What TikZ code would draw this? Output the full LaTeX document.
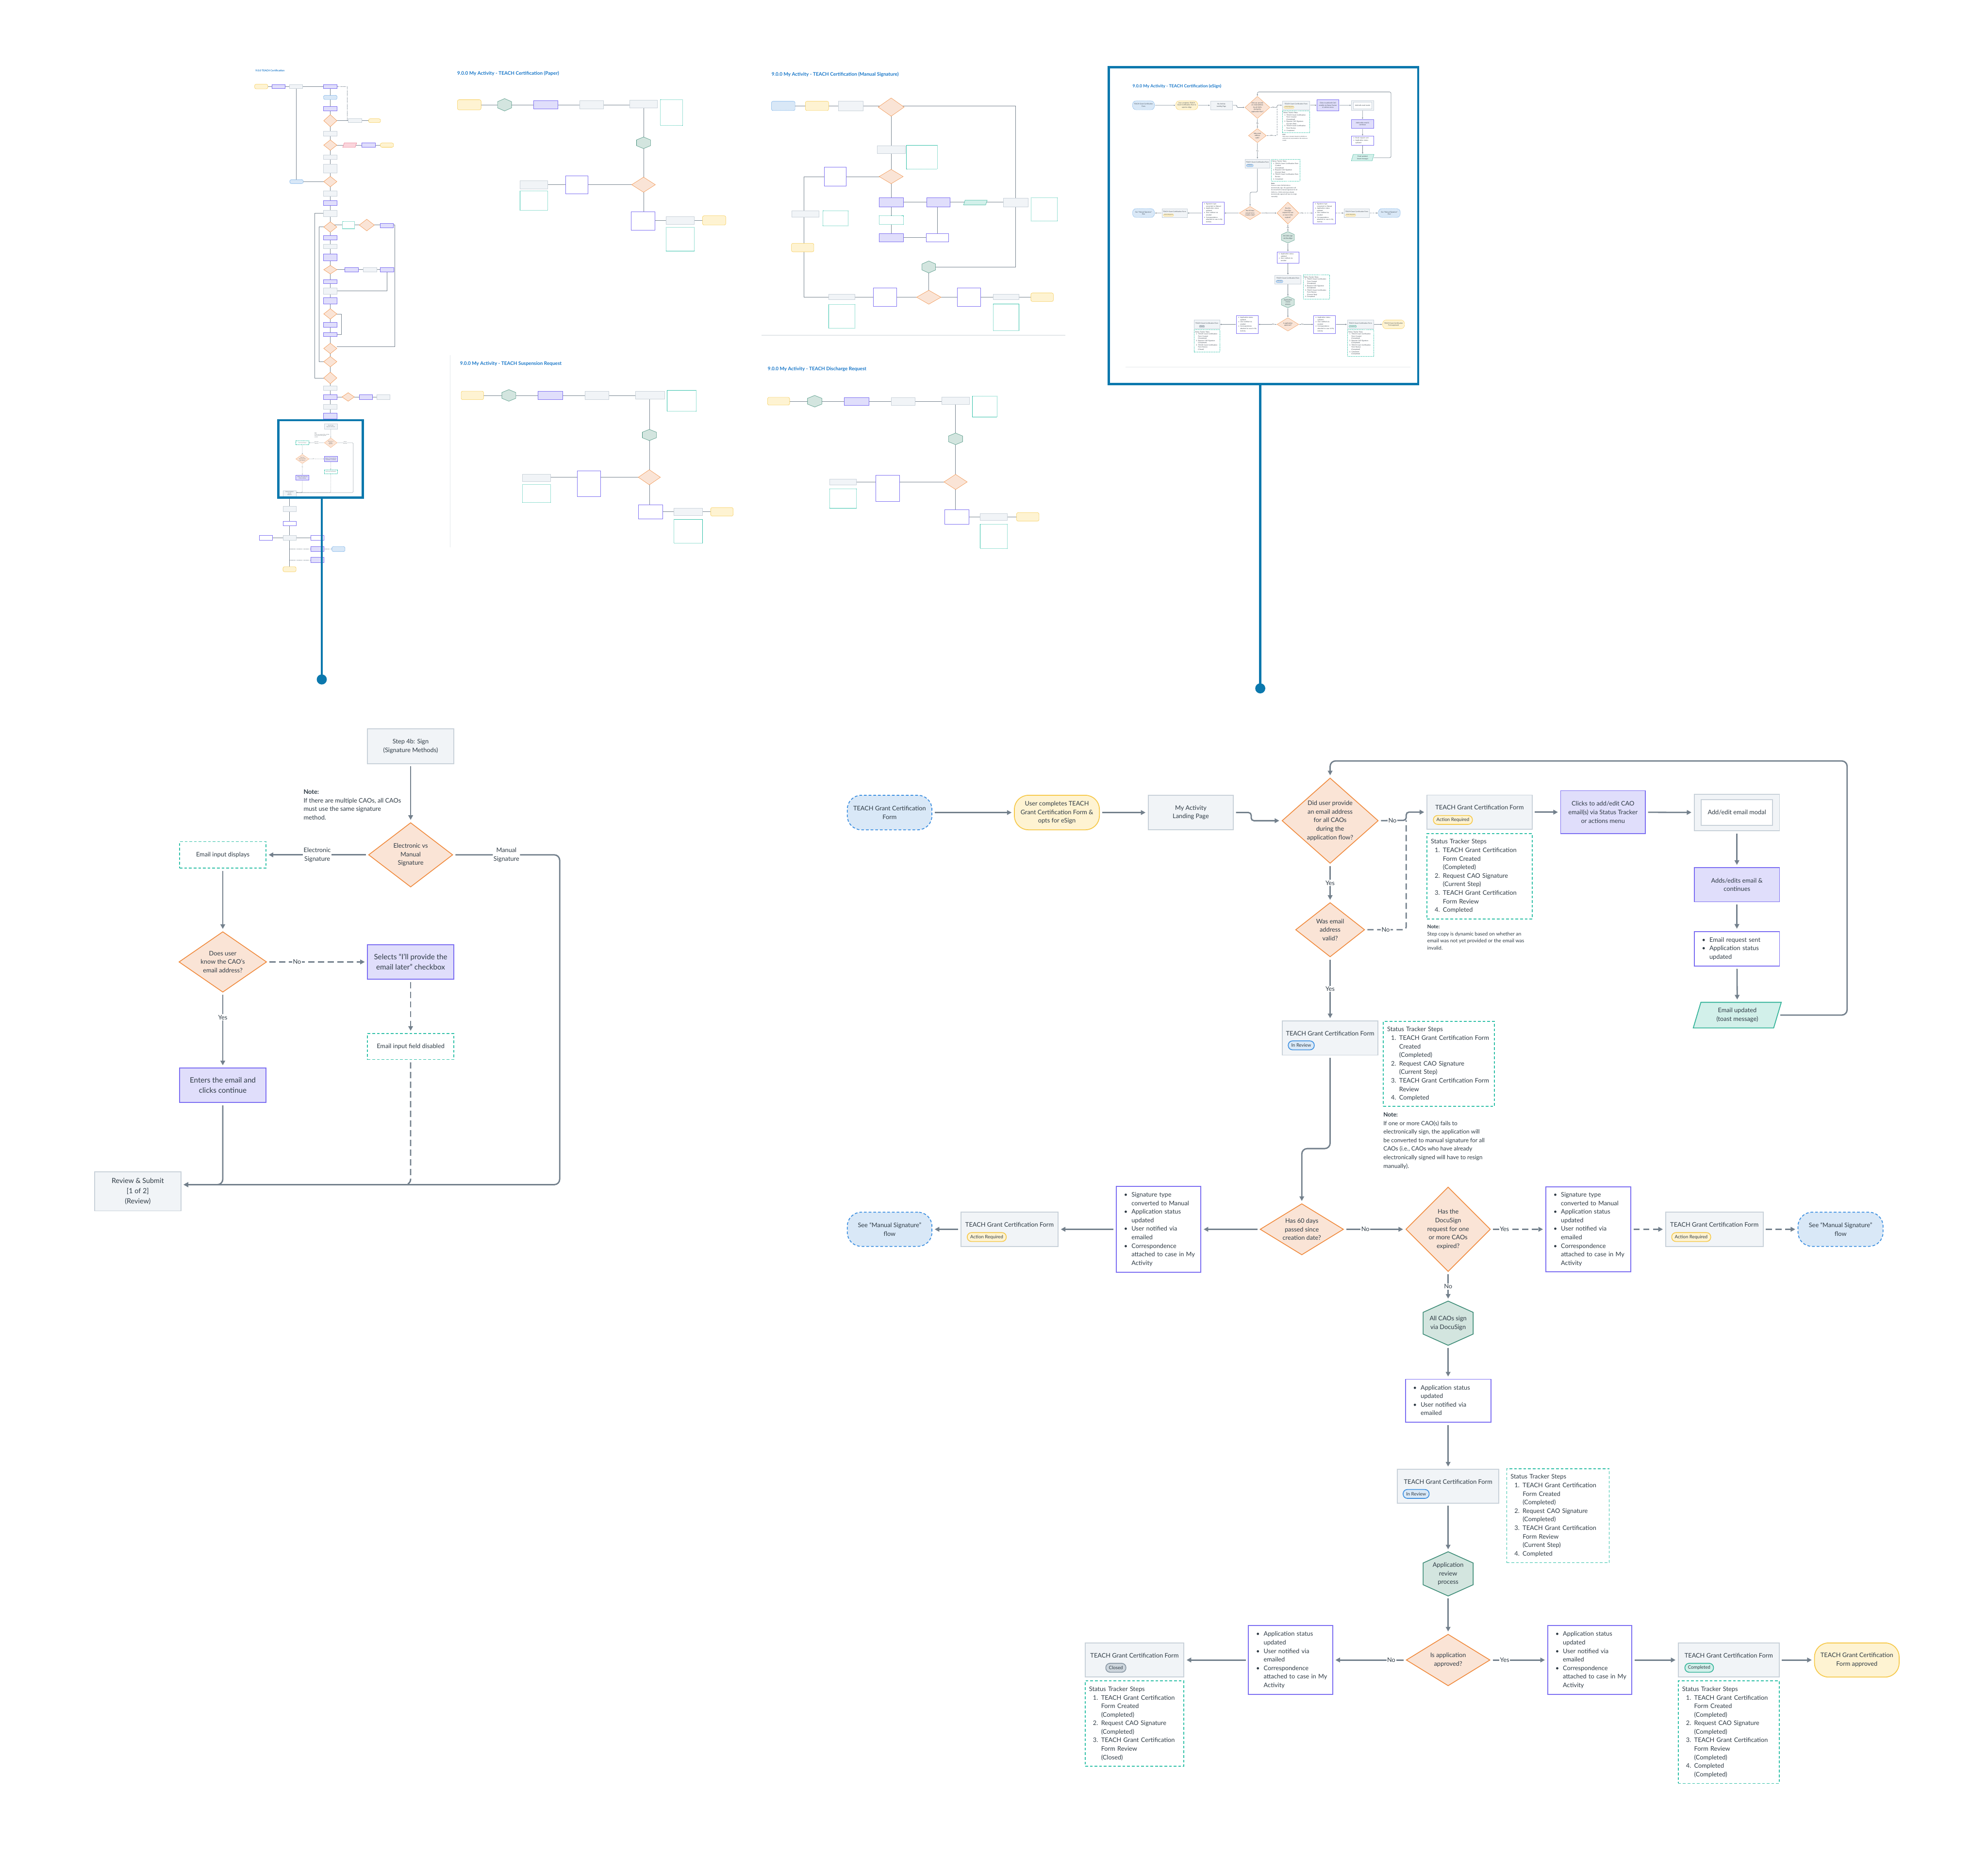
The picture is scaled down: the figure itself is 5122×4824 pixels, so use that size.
\documentclass[tikz,border=0pt]{standalone}
\usepackage{fontspec}
\setmainfont{Lato}
\usetikzlibrary{arrows.meta,calc,positioning,shapes.geometric}

\definecolor{lnGray}{HTML}{73808C}
\definecolor{txtc}{HTML}{2F3B45}
\definecolor{gFill}{HTML}{F1F4F7}
\definecolor{gEdge}{HTML}{C8D1D9}
\definecolor{pFill}{HTML}{E0DEFB}
\definecolor{pEdge}{HTML}{7B6DF2}
\definecolor{dFill}{HTML}{FAE4D6}
\definecolor{dEdge}{HTML}{F0893B}
\definecolor{tEdge}{HTML}{2DBFA6}
\definecolor{bFill}{HTML}{D9E8F7}
\definecolor{bEdge}{HTML}{3B8EE0}
\definecolor{yFill}{HTML}{FEF3D2}
\definecolor{yEdge}{HTML}{F6C94B}
\definecolor{hFill}{HTML}{D3E5DF}
\definecolor{hEdge}{HTML}{3C8B76}
\definecolor{toastFill}{HTML}{D2F0EA}
\definecolor{toastEdge}{HTML}{33B399}
\definecolor{clFill}{HTML}{CDD5DC}
\definecolor{clEdge}{HTML}{8796A3}
\definecolor{pinkFill}{HTML}{FBD5DC}
\definecolor{pinkEdge}{HTML}{E8738A}
\definecolor{frameBlue}{HTML}{0B78AD}
\definecolor{titleBlue}{HTML}{1A78C9}
\definecolor{sepGray}{HTML}{E3E7EA}

\newcommand\ftMain{\fontsize{16}{22}\selectfont}
\newcommand\ftBig{\fontsize{19}{26}\selectfont}
\newcommand\ftRev{\fontsize{18}{26}\selectfont}
\newcommand\ftNote{\fontsize{13}{18.5}\selectfont}
\newcommand\ftNoteB{\fontsize{15}{22}\selectfont}
\newcommand\ftBadge{\fontsize{12}{14}\selectfont}

% sizes that do not follow a scope's scale
\newcommand\setflowscale[1]{%
  \pgfmathsetlengthmacro\lwConn{3.5pt*#1}%
  \pgfmathsetlengthmacro\lwBox{2.2pt*#1}%
  \pgfmathsetlengthmacro\lwThin{2pt*#1}%
  \pgfmathsetlengthmacro\rBig{14pt*#1}%
  \pgfmathsetlengthmacro\rSmall{7pt*#1}%
  \pgfmathsetlengthmacro\rTerm{36pt*#1}%
  \pgfmathsetlengthmacro\rBadge{11pt*#1}%
  \pgfmathsetlengthmacro\dcA{16pt*#1}%
  \pgfmathsetlengthmacro\dcB{9pt*#1}%
  \pgfmathsetlengthmacro\dsA{7pt*#1}%
  \pgfmathsetlengthmacro\dsB{5pt*#1}%
  \pgfmathsetlengthmacro\gapC{6pt*#1}%
}
\setflowscale{1}

\newcommand\bulletlist[1]{\begin{tabular}{@{}l@{\hspace{10pt}}l@{}}#1\end{tabular}}
\newcommand\trackerlist[1]{\begin{tabular}{@{\hspace{10pt}}l@{\hspace{8pt}}l@{}}\multicolumn{2}{@{}l@{}}{Status Tracker Steps}\\#1\end{tabular}}

\tikzset{
  flowbox/.style={rectangle, draw, line width=\lwBox, align=center, text=txtc, font=\ftMain, inner sep=4pt},
  graybox/.style={flowbox, fill=gFill, draw=gEdge},
  formbox/.style={graybox, text height=12pt, text depth=24pt},
  purplebox/.style={flowbox, fill=pFill, draw=pEdge},
  modalbox/.style={flowbox, fill=white, draw=gEdge},
  listbox/.style={flowbox, fill=white, draw=pEdge, align=left, inner xsep=20pt},
  dashbox/.style={flowbox, fill=white, draw=tEdge, dash pattern=on \dsA off \dsB},
  trackbox/.style={dashbox, align=left, inner xsep=10pt},
  startterm/.style={flowbox, rounded corners=\rTerm, fill=bFill, draw=bEdge, dash pattern=on \dsA off \dsB},
  endterm/.style={flowbox, rounded corners=\rTerm, fill=yFill, draw=yEdge},
  decision/.style={diamond, draw=dEdge, fill=dFill, line width=\lwThin, inner sep=0pt, align=center, text=txtc, font=\ftMain},
  hexbody/.style={fill=hFill, draw=hEdge, line width=\lwThin},
  hextext/.style={rectangle, inner sep=0pt, align=center, text=txtc, font=\ftMain},
  toastnode/.style={trapezium, trapezium left angle=74, trapezium right angle=106, trapezium stretches=true, draw=toastEdge, fill=toastFill, line width=\lwBox, align=center, text=txtc, font=\ftMain, inner sep=2pt},
  badge/.style={rectangle, rounded corners=\rBadge, line width=\lwThin, font=\ftBadge, text=txtc, inner xsep=8pt, inner ysep=0pt, minimum height=23pt, anchor=west},
  badgeact/.style={badge, fill=yFill, draw=yEdge},
  badgerev/.style={badge, fill=bFill, draw=bEdge},
  badgeclosed/.style={badge, fill=clFill, draw=clEdge},
  badgedone/.style={badge, fill=toastFill, draw=toastEdge},
  notetext/.style={anchor=north west, align=left, inner sep=0pt, text=txtc, font=\ftMain},
  lbl/.style={fill=white, align=center, inner sep=2pt, text=txtc, font=\ftMain},
  conn/.style={draw=lnGray, line width=\lwConn, shorten <=\gapC, shorten >=\gapC, -{Triangle[length=0pt 3.4, width=0pt 3.4]}},
  dconn/.style={conn, dash pattern=on \dcA off \dcB},
  dline/.style={draw=lnGray, line width=\lwConn, shorten <=\gapC, dash pattern=on \dcA off \dcB},
  % overview thumbnails
  mini/.style={line width=0.7pt},
  mg/.style={mini, fill=gFill, draw=gEdge},
  mp/.style={mini, fill=pFill, draw=pEdge},
  mw/.style={mini, fill=white, draw=pEdge},
  mt/.style={mini, fill=white, draw=tEdge, dash pattern=on 1.5pt off 1pt},
  my/.style={mini, fill=yFill, draw=yEdge, rounded corners=4pt},
  mbt/.style={mini, fill=bFill, draw=bEdge, dash pattern=on 1.5pt off 1pt, rounded corners=4pt},
  mdia/.style={mini, fill=dFill, draw=dEdge},
  mhex/.style={mini, fill=hFill, draw=hEdge},
  mpink/.style={mini, fill=pinkFill, draw=pinkEdge},
  mteal/.style={mini, fill=toastFill, draw=toastEdge},
  mline/.style={draw=lnGray, line width=0.9pt},
  mdline/.style={mline, dash pattern=on 2pt off 1.5pt},
  ttl/.style={anchor=west, inner sep=0pt, text=titleBlue, font=\bfseries\fontsize{12.5}{15}\selectfont},
  framebox/.style={draw=frameBlue, line width=6pt},
  sepline/.style={draw=sepGray, line width=1.5pt}
}

% thumbnail shapes: style, cx, cy (down), w, h
\newcommand\thumbbox[5]{\filldraw[#1] (#2-#4/2,-#3+#5/2) rectangle (#2+#4/2,-#3-#5/2);}
\newcommand\thumbdia[4]{\filldraw[mdia] (#1-#3/2,-#2) -- (#1,-#2+#4/2) -- (#1+#3/2,-#2) -- (#1,-#2-#4/2) -- cycle;}
\newcommand\thumbhex[4]{\filldraw[mhex] (#1-#3/2,-#2+#4/4) -- (#1,-#2+#4/2) -- (#1+#3/2,-#2+#4/4) -- (#1+#3/2,-#2-#4/4) -- (#1,-#2-#4/2) -- (#1-#3/2,-#2-#4/4) -- cycle;}
\newcommand\thumbpar[5]{\filldraw[#1] (#2-#4/2,-#3-#5/2) -- (#2-#4/2+#5/3,-#3+#5/2) -- (#2+#4/2,-#3+#5/2) -- (#2+#4/2-#5/3,-#3-#5/2) -- cycle;}

% hexagon step: name, x, y, text
\newcommand\hexstep[4]{%
  \filldraw[hexbody] (#2-64.5,#3+28) -- (#2,#3+57) -- (#2+64.5,#3+28) -- (#2+64.5,#3-28) -- (#2,#3-57) -- (#2-64.5,#3-28) -- cycle;
  \node[hextext, minimum width=129pt, minimum height=114pt] (#1) at (#2,#3) {#4};}

% Step 4b: signature methods
\newcommand\signflow{%
  \node[graybox, minimum width=222pt, minimum height=90pt] (step) at (1058,-1923) {Step 4b: Sign\\(Signature Methods)};
  \node[decision, aspect=1.3, minimum width=217pt, minimum height=166pt] (method) at (1058,-2203) {Electronic vs\\Manual\\Signature};
  \node[notetext] (note1) at (782,-2035) {\textbf{Note:}\\If there are multiple CAOs, all CAOs\\must use the same signature\\method.};
  \node[dashbox, minimum width=222pt, minimum height=68pt] (einput) at (574,-2203) {Email input displays};
  \node[decision, aspect=1.45, minimum width=226pt, minimum height=156pt] (knows) at (574,-2479) {Does user\\know the CAO’s\\email address?};
  \node[purplebox, font=\ftBig, minimum width=222pt, minimum height=89pt] (later) at (1058,-2479) {Selects “I’ll provide the\\email later” checkbox};
  \node[dashbox, minimum width=222pt, minimum height=67pt] (disabled) at (1058,-2697) {Email input field disabled};
  \node[purplebox, font=\ftBig, minimum width=222pt, minimum height=89pt] (enters) at (574,-2797) {Enters the email and\\clicks continue};
  \node[graybox, font=\ftRev, minimum width=223pt, minimum height=101pt] (review) at (355,-3070) {Review \& Submit\\{[1 of 2]}\\(Review)};
  \coordinate (revin) at (467,-3053);
  \draw[conn] (step) -- (method);
  \draw[conn] (method) -- node[lbl]{Electronic\\Signature} (einput);
  \draw[conn] (einput) -- (knows);
  \draw[dconn] (knows) -- node[lbl, pos=.3]{No} (later);
  \draw[dconn] (later) -- (disabled);
  \draw[conn] (knows) -- node[lbl, pos=.33]{Yes} (enters);
  \draw[conn, rounded corners=\rBig] (method.east) -- node[lbl]{Manual\\Signature} (1442,-2203) |- (revin);
  \draw[conn, rounded corners=\rBig] (enters) |- (revin);
  \draw[dconn, rounded corners=\rBig] (disabled) |- (revin);
}

% 9.0.0 TEACH Certification (eSign)
\newcommand\esignflow{%
  \node[startterm, minimum width=218pt, minimum height=89pt] (start) at (2292,-2094) {TEACH Grant Certification\\Form};
  \node[endterm, minimum width=219pt, minimum height=89pt] (optin) at (2723,-2094) {User completes TEACH\\Grant Certification Form \&\\opts for eSign};
  \node[graybox, minimum width=219pt, minimum height=89pt] (landing) at (3068,-2094) {My Activity\\Landing Page};
  \node[decision, aspect=1.13, minimum width=248pt, minimum height=220pt] (provided) at (3427,-2115) {Did user provide\\an email address\\for all CAOs\\during the\\application flow?};
  \node[decision, aspect=1.27, minimum width=178pt, minimum height=140pt] (valid) at (3427,-2396) {Was email\\address\\valid?};
  \node[formbox, minimum width=271pt, minimum height=88pt] (form1) at (3812,-2093) {TEACH Grant Certification Form};
  \node[badgeact] (form1b) at (3692,-2113) {Action Required};
  \node[trackbox, text width=251pt, minimum height=220pt] (track1) at (3812,-2258) {\trackerlist{1. & TEACH Grant Certification\\ & Form Created\\ & (Completed)\\2. & Request CAO Signature\\ & (Current Step)\\3. & TEACH Grant Certification\\ & Form Review\\4. & Completed}};
  \node[notetext, font=\ftNote] (note2) at (3677,-2383) {\textbf{Note:}\\Step copy is dynamic based on whether an\\email was not yet provided or the email was\\invalid.};
  \node[purplebox, minimum width=218pt, minimum height=111pt] (clicks) at (4130,-2093) {Clicks to add/edit CAO\\email(s) via Status Tracker\\or actions menu};
  \node[graybox, minimum width=220pt, minimum height=94pt] (modal) at (4475,-2094) {};
  \node[modalbox, minimum width=184pt, minimum height=67pt] (modaltxt) at (4475,-2094) {Add/edit email modal};
  \node[purplebox, minimum width=220pt, minimum height=88pt] (adds) at (4475,-2280) {Adds/edits email \&\\continues};
  \node[listbox, text width=180pt, minimum height=89pt] (sent) at (4475,-2445) {\bulletlist{\textbullet & Email request sent\\\textbullet & Application status\\ & updated}};
  \node[toastnode, minimum width=227pt, minimum height=66pt] (toast) at (4476,-2616) {Email updated\\(toast message)};
  \node[formbox, minimum width=246pt, minimum height=88pt] (review1) at (3427,-2675) {TEACH Grant Certification Form};
  \node[badgerev] (review1b) at (3318,-2694) {In Review};
  \node[trackbox, text width=266pt, minimum height=219pt] (track2) at (3707,-2742) {\trackerlist{1. & TEACH Grant Certification Form\\ & Created\\ & (Completed)\\2. & Request CAO Signature\\ & (Current Step)\\3. & TEACH Grant Certification Form\\ & Review\\4. & Completed}};
  \node[notetext, font=\ftNoteB] (note3) at (3564,-2867) {\textbf{Note:}\\If one or more CAO(s) fails to\\electronically sign, the application will\\be converted to manual signature for all\\CAOs (i.e., CAOs who have already\\electronically signed will have to resign\\manually).};
  \node[decision, aspect=1.63, minimum width=215pt, minimum height=132pt] (days) at (3354,-3168) {Has 60 days\\passed since\\creation date?};
  \node[listbox, text width=178pt, minimum height=221pt] (convert1) at (2985,-3168) {\bulletlist{\textbullet & Signature type\\ & converted to Manual\\\textbullet & Application status\\ & updated\\\textbullet & User notified via\\ & emailed\\\textbullet & Correspondence\\ & attached to case in My\\ & Activity}};
  \node[formbox, minimum width=250pt, minimum height=88pt] (action2) at (2601,-3168) {TEACH Grant Certification Form};
  \node[badgeact] (action2b) at (2491,-3188) {Action Required};
  \node[startterm, minimum width=218pt, minimum height=88pt] (manual1) at (2292,-3168) {See “Manual Signature”\\flow};
  \node[decision, aspect=1, minimum width=218pt, minimum height=218pt] (expired) at (3731,-3168) {Has the\\DocuSign\\request for one\\or more CAOs\\expired?};
  \node[listbox, text width=179pt, minimum height=219pt] (convert2) at (4092,-3168) {\bulletlist{\textbullet & Signature type\\ & converted to Manual\\\textbullet & Application status\\ & updated\\\textbullet & User notified via\\ & emailed\\\textbullet & Correspondence\\ & attached to case in My\\ & Activity}};
  \node[formbox, minimum width=251pt, minimum height=88pt] (action3) at (4417,-3168) {TEACH Grant Certification Form};
  \node[badgeact] (action3b) at (4306,-3188) {Action Required};
  \node[startterm, minimum width=219pt, minimum height=88pt] (manual2) at (4742,-3168) {See “Manual Signature”\\flow};
  \hexstep{allsign}{3731}{-3410}{All CAOs sign\\via DocuSign}
  \node[listbox, text width=180pt, minimum height=111pt] (updated) at (3731,-3610) {\bulletlist{\textbullet & Application status\\ & updated\\\textbullet & User notified via\\ & emailed}};
  \node[formbox, minimum width=261pt, minimum height=87pt] (review2) at (3731,-3830) {TEACH Grant Certification Form};
  \node[badgerev] (review2b) at (3614,-3850) {In Review};
  \node[trackbox, text width=244pt, minimum height=242pt] (track3) at (4014,-3906) {\trackerlist{1. & TEACH Grant Certification\\ & Form Created\\ & (Completed)\\2. & Request CAO Signature\\ & (Completed)\\3. & TEACH Grant Certification\\ & Form Review\\ & (Current Step)\\4. & Completed}};
  \hexstep{process}{3731}{-4056}{Application\\review\\process}
  \node[decision, aspect=1.62, minimum width=216pt, minimum height=133pt] (approved) at (3731,-4278) {Is application\\approved?};
  \node[listbox, text width=177pt, minimum height=177pt] (notify1) at (3325,-4278) {\bulletlist{\textbullet & Application status\\ & updated\\\textbullet & User notified via\\ & emailed\\\textbullet & Correspondence\\ & attached to case in My\\ & Activity}};
  \node[formbox, minimum width=254pt, minimum height=88pt] (closed) at (2923,-4278) {TEACH Grant Certification Form};
  \node[badgeclosed] (closedb) at (2848,-4298) {Closed};
  \node[trackbox, text width=234pt, minimum height=220pt] (track4) at (2923,-4442) {\trackerlist{1. & TEACH Grant Certification\\ & Form Created\\ & (Completed)\\2. & Request CAO Signature\\ & (Completed)\\3. & TEACH Grant Certification\\ & Form Review\\ & (Closed)}};
  \node[listbox, text width=177pt, minimum height=177pt] (notify2) at (4096,-4278) {\bulletlist{\textbullet & Application status\\ & updated\\\textbullet & User notified via\\ & emailed\\\textbullet & Correspondence\\ & attached to case in My\\ & Activity}};
  \node[formbox, minimum width=260pt, minimum height=88pt] (done) at (4454,-4278) {TEACH Grant Certification Form};
  \node[badgedone] (doneb) at (4340,-4298) {Completed};
  \node[trackbox, text width=240pt, minimum height=264pt] (track5) at (4454,-4464) {\trackerlist{1. & TEACH Grant Certification\\ & Form Created\\ & (Completed)\\2. & Request CAO Signature\\ & (Completed)\\3. & TEACH Grant Certification\\ & Form Review\\ & (Completed)\\4. & Completed\\ & (Completed)}};
  \node[endterm, minimum width=218pt, minimum height=88pt] (approvedend) at (4784,-4278) {TEACH Grant Certification\\Form approved};
  \coordinate (nojoin) at (3623,-2114);
  % connectors
  \draw[conn] (start) -- (optin);
  \draw[conn] (optin) -- (landing);
  \draw[conn, rounded corners=\rSmall] (landing.east) -- ++(45,0) |- (provided.west);
  \draw[conn] (provided) -- node[lbl]{Yes} (valid);
  \draw[conn, rounded corners=\rSmall] (provided.east) -- node[lbl]{No} (nojoin) |- (form1.west);
  \draw[dline, rounded corners=\rSmall] (valid.east) -- node[lbl]{No} (valid.east -| nojoin) -- (nojoin);
  \draw[conn] (form1) -- (clicks);
  \draw[conn] (clicks) -- (modal);
  \draw[conn] (modal) -- (adds);
  \draw[conn] (adds) -- (sent);
  \draw[conn] (sent) -- (toast);
  \draw[conn, rounded corners=\rBig] (toast.east) -| (4759,-1961) -| (provided.north);
  \draw[conn] (valid) -- node[lbl]{Yes} (review1);
  \draw[conn, rounded corners=\rBig] (review1.south) -- (3427,-2960) -| (days.north);
  \draw[conn] (days) -- (convert1);
  \draw[conn] (convert1) -- (action2);
  \draw[conn] (action2) -- (manual1);
  \draw[conn] (days) -- node[lbl, pos=.35]{No} (expired);
  \draw[dconn] (expired) -- node[lbl, pos=.25]{Yes} (convert2);
  \draw[dconn] (convert2) -- (action3);
  \draw[dconn] (action3) -- (manual2);
  \draw[conn] (expired) -- node[lbl]{No} (allsign);
  \draw[conn] (allsign) -- (updated);
  \draw[conn] (updated) -- (review2);
  \draw[conn] (review2) -- (process);
  \draw[conn] (process) -- (approved);
  \draw[conn] (approved) -- node[lbl, pos=.2]{No} (notify1);
  \draw[conn] (notify1) -- (closed);
  \draw[conn] (approved) -- node[lbl, pos=.25]{Yes} (notify2);
  \draw[conn] (notify2) -- (done);
  \draw[conn] (done) -- (approvedend);
}

\begin{document}
\begin{tikzpicture}[x=1pt,y=1pt]
\useasboundingbox (0,0) rectangle (5122,-4824);
\fill[white] (0,0) rectangle (5122,-4824);

% ---- overview: 9.0.0 TEACH Certification
\node[ttl, font=\bfseries\fontsize{6.5}{8}\selectfont] (ttall) at (658,-182) {9.0.0 TEACH Certification};
\draw[mline] (673,-223) -- (851,-223) -- (851,-1085);
\draw[mline] (763,-223) -- (763,-468) -- (851,-468);
\draw[mline] (851,-311) -- (965,-311);
\draw[mline] (851,-374) -- (997,-374);
\draw[mline] (851,-580) -- (996,-580);
\draw[mline] (851,-695) -- (997,-695);
\draw[mline] (851,-1023) -- (988,-1023);
\draw[mline] (851,-550) -- (811,-550) -- (811,-974) -- (851,-974);
\draw[mline] (851,-585) -- (822,-585) -- (822,-932) -- (851,-932);
\draw[mline] (996,-580) -- (1017,-580) -- (1017,-893) -- (868,-893);
\draw[mline] (997,-695) -- (997,-750) -- (868,-750);
\draw[mline] (868,-809) -- (880,-809) -- (880,-862) -- (868,-862);
\draw[mdline] (869,-223) -- (895,-223) -- (895,-311) -- (868,-311);
\draw[mline] (746,-1283) -- (746,-1467);
\draw[mline] (685,-1386) -- (818,-1386);
\draw[mdline] (746,-1415) -- (872,-1415);
\draw[mdline] (746,-1443) -- (818,-1443);
\thumbbox{my}{673}{223}{34}{12}
\thumbbox{mp}{718}{223}{34}{11}
\thumbbox{mg}{763}{223}{34}{11}
\thumbbox{mp}{851}{223}{35}{11}
\thumbbox{mbt}{851}{251}{35}{11}
\thumbbox{mp}{851}{280}{35}{11}
\thumbdia{851}{311}{34}{31}
\thumbbox{mg}{915}{311}{35}{10}
\thumbbox{my}{965}{311}{31}{10}
\thumbbox{mg}{851}{344}{35}{12}
\thumbdia{851}{374}{34}{27}
\thumbpar{mpink}{901}{374}{36}{12}
\thumbbox{mp}{950}{374}{35}{11}
\thumbbox{my}{997}{374}{34}{11}
\thumbbox{mg}{851}{405}{35}{12}
\thumbbox{mg}{851}{434}{35}{22}
\thumbdia{851}{468}{34}{27}
\thumbbox{mbt}{764}{468}{35}{10}
\thumbbox{mg}{851}{499}{35}{14}
\thumbbox{mp}{851}{523}{35}{12}
\thumbbox{mg}{851}{550}{35}{16}
\thumbdia{851}{585}{34}{27}
\thumbbox{mt}{898}{580}{31}{18}
\thumbdia{945}{580}{39}{30}
\thumbbox{mp}{996}{581}{34}{12}
\thumbbox{mp}{851}{612}{35}{11}
\thumbbox{mg}{851}{635}{35}{11}
\thumbbox{mp}{851}{663}{35}{17}
\thumbdia{851}{695}{34}{22}
\thumbbox{mp}{906}{695}{35}{11}
\thumbbox{mg}{953}{695}{35}{11}
\thumbbox{mp}{997}{695}{35}{11}
\thumbbox{mp}{851}{726}{35}{10}
\thumbbox{mg}{851}{750}{35}{16}
\thumbbox{mp}{851}{775}{35}{17}
\thumbdia{851}{809}{34}{27}
\thumbbox{mp}{851}{837}{35}{12}
\thumbbox{mp}{851}{862}{35}{10}
\thumbdia{851}{898}{34}{27}
\thumbdia{851}{932}{34}{27}
\thumbdia{851}{974}{34}{30}
\thumbbox{mg}{851}{1000}{35}{12}
\thumbbox{mp}{851}{1023}{35}{12}
\thumbdia{897}{1023}{32}{22}
\thumbbox{mp}{943}{1023}{34}{12}
\thumbbox{mg}{988}{1023}{34}{12}
\thumbbox{mg}{851}{1048}{35}{13}
\thumbbox{mp}{851}{1072}{35}{14}
\thumbbox{mg}{746}{1311}{34}{14}
\thumbbox{mw}{746}{1349}{34}{12}
\thumbbox{mg}{746}{1386}{34}{13}
\thumbbox{mw}{685}{1386}{34}{12}
\thumbbox{mw}{818}{1386}{34}{13}
\thumbbox{mp}{818}{1415}{34}{13}
\thumbbox{mbt}{872}{1415}{34}{13}
\thumbbox{mp}{818}{1443}{34}{13}
\thumbbox{my}{746}{1467}{34}{13}
\begin{scope}[shift={(692.4,-808.4)}, scale=0.151, transform shape, name prefix=tt-]
  \setflowscale{0.151}
  \signflow
\end{scope}

% ---- overview: Paper
\node[ttl] (tpaper) at (1178,-189) {9.0.0 My Activity - TEACH Certification (Paper)};
\draw[mline] (1209,-270) -- (1658,-270) -- (1658,-568) -- (1840,-568);
\draw[mline] (1658,-476) -- (1375,-476);
\thumbbox{my}{1209}{270}{61}{26}
\thumbhex{1300}{270}{36}{32}
\thumbbox{mp}{1406}{270}{62}{22}
\thumbbox{mg}{1524}{270}{61}{22}
\thumbbox{mg}{1658}{268}{71}{21}
\thumbbox{mt}{1730}{290}{57}{67}
\thumbhex{1658}{368}{36}{30}
\thumbdia{1658}{476}{61}{39}
\thumbbox{mw}{1486}{476}{57}{47}
\thumbbox{mg}{1375}{476}{72}{21}
\thumbbox{mt}{1375}{517}{72}{50}
\thumbbox{mw}{1657}{569}{61}{48}
\thumbbox{mg}{1752}{568}{72}{20}
\thumbbox{my}{1840}{568}{60}{24}
\thumbbox{mt}{1752}{616}{72}{61}

% ---- overview: Manual Signature
\node[ttl] (tmanual) at (1988,-192) {9.0.0 My Activity - TEACH Certification (Manual Signature)};
\draw[mline] (2018,-273) -- (2616,-273) -- (2616,-688) -- (2393,-688) -- (2393,-766);
\draw[mline] (2296,-273) -- (2296,-612) -- (2415,-612) -- (2415,-521);
\draw[mline] (2296,-521) -- (2617,-521);
\draw[mline] (2296,-455) -- (2071,-455) -- (2071,-766) -- (2393,-766) -- (2685,-766);
\thumbbox{mbt}{2018}{273}{61}{24}
\thumbbox{my}{2105}{273}{60}{24}
\thumbbox{mg}{2192}{273}{63}{24}
\thumbdia{2296}{276}{67}{47}
\thumbbox{mg}{2296}{385}{72}{20}
\thumbbox{mt}{2375}{405}{79}{61}
\thumbdia{2296}{455}{62}{37}
\thumbbox{mw}{2152}{455}{57}{49}
\thumbbox{mp}{2296}{521}{62}{24}
\thumbbox{mp}{2417}{521}{60}{24}
\thumbpar{mteal}{2513}{522}{61}{12}
\thumbbox{mg}{2617}{522}{64}{22}
\thumbbox{mt}{2690}{539}{68}{60}
\thumbbox{mt}{2296}{567}{62}{22}
\thumbbox{mp}{2296}{612}{62}{21}
\thumbbox{mw}{2415}{612}{57}{21}
\thumbbox{mg}{2075}{551}{71}{16}
\thumbbox{mt}{2153}{562}{65}{39}
\thumbbox{my}{2068}{638}{58}{22}
\thumbhex{2393}{688}{35}{31}
\thumbdia{2393}{766}{63}{36}
\thumbbox{mw}{2280}{766}{61}{47}
\thumbbox{mg}{2169}{765}{68}{13}
\thumbbox{mt}{2169}{815}{68}{61}
\thumbbox{mw}{2496}{766}{60}{47}
\thumbbox{mg}{2592}{765}{67}{13}
\thumbbox{my}{2685}{766}{58}{22}
\thumbbox{mt}{2592}{818}{67}{69}
\draw[sepline] (1962,-864) -- (2745,-864);

% ---- overview: Suspension
\draw[sepline] (1160,-915) -- (1160,-1411);
\node[ttl] (tsusp) at (1185,-938) {9.0.0 My Activity - TEACH Suspension Request};
\draw[mline] (1217,-1019) -- (1673,-1019) -- (1673,-1319) -- (1860,-1319);
\draw[mline] (1673,-1230) -- (1382,-1230);
\thumbbox{my}{1217}{1019}{58}{22}
\thumbhex{1311}{1019}{36}{30}
\thumbbox{mp}{1418}{1019}{64}{22}
\thumbbox{mg}{1538}{1019}{62}{22}
\thumbbox{mg}{1675}{1018}{75}{20}
\thumbbox{mt}{1756}{1033}{75}{54}
\thumbhex{1673}{1121}{36}{29}
\thumbdia{1673}{1230}{57}{39}
\thumbbox{mw}{1517}{1246}{60}{66}
\thumbbox{mg}{1382}{1231}{72}{19}
\thumbbox{mt}{1382}{1271}{72}{46}
\thumbbox{mw}{1676}{1319}{63}{36}
\thumbbox{mg}{1773}{1319}{73}{19}
\thumbbox{my}{1860}{1319}{58}{22}
\thumbbox{mt}{1773}{1369}{73}{62}

% ---- overview: Discharge
\node[ttl] (tdisch) at (1978,-951) {9.0.0 My Activity - TEACH Discharge Request};
\draw[mline] (2006,-1034) -- (2462,-1034) -- (2462,-1332) -- (2648,-1332);
\draw[mline] (2462,-1242) -- (2172,-1242);
\thumbbox{my}{2006}{1034}{57}{20}
\thumbhex{2099}{1034}{37}{30}
\thumbbox{mp}{2207}{1034}{63}{20}
\thumbbox{mg}{2327}{1034}{62}{20}
\thumbbox{mg}{2462}{1033}{71}{19}
\thumbbox{mt}{2537}{1048}{63}{54}
\thumbhex{2462}{1131}{36}{30}
\thumbdia{2462}{1242}{60}{39}
\thumbbox{mw}{2287}{1258}{61}{67}
\thumbbox{mg}{2172}{1242}{69}{14}
\thumbbox{mt}{2172}{1285}{69}{50}
\thumbbox{mw}{2465}{1332}{63}{37}
\thumbbox{mg}{2560}{1332}{69}{18}
\thumbbox{my}{2648}{1332}{58}{22}
\thumbbox{mt}{2560}{1382}{69}{62}

% ---- overview: eSign (same flow, reduced)
\node[ttl, font=\bfseries\fontsize{11}{13}\selectfont] (tesign) at (2918,-223) {9.0.0 My Activity - TEACH Certification (eSign)};
\begin{scope}[shift={(2353.7,269.9)}, scale=0.2585, transform shape, name prefix=th-]
  \setflowscale{0.2585}
  \esignflow
\end{scope}
\draw[sepline] (2900,-946) -- (3634,-946);

% ---- zoom frames
\draw[framebox] (717,-1083) rectangle (935,-1282);
\draw[frameBlue, line width=6pt] (829,-1282) -- (829,-1751);
\fill[frameBlue] (829,-1751) circle (13);
\draw[framebox] (2857,-173) rectangle (3654,-990);
\draw[frameBlue, line width=6pt] (3247,-990) -- (3247,-1774);
\fill[frameBlue] (3247,-1774) circle (13);

% ---- detail flows
\signflow
\esignflow
\end{tikzpicture}
\end{document}
